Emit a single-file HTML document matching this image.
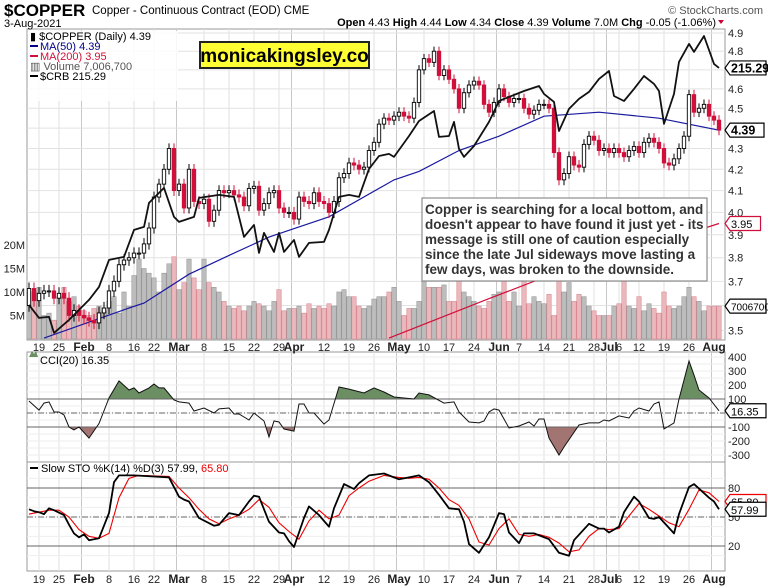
<!DOCTYPE html>
<html><head><meta charset="utf-8"><style>
body{margin:0;background:#fff;}
svg{display:block;font-family:"Liberation Sans",Arial,sans-serif;}
</style></head><body>
<svg id="c" width="768" height="588" viewBox="0 0 768 588" xmlns="http://www.w3.org/2000/svg">
<rect width="768" height="588" fill="#fff"/>
<g id="grid"></g>
<g id="vol"></g>
<g id="ma"></g>
<g id="candles"></g>
<g id="lines"></g>
<g id="ind"></g>
<g id="axes"></g>
<text x="4" y="16" font-size="17" font-weight="bold">$COPPER</text>
<text x="92" y="14" font-size="11.5">Copper - Continuous Contract (EOD)  CME</text>
<text x="4" y="27" font-size="11">3-Aug-2021</text>
<text x="763" y="14" font-size="11" fill="#555" text-anchor="end">© StockCharts.com</text>
<text x="716" y="26" font-size="11" text-anchor="end"><tspan font-weight="bold">Open</tspan> 4.43 <tspan font-weight="bold">High</tspan> 4.44 <tspan font-weight="bold">Low</tspan> 4.34 <tspan font-weight="bold">Close</tspan> 4.39 <tspan font-weight="bold">Volume</tspan> 7.0M <tspan font-weight="bold">Chg</tspan> -0.05 (-1.06%)</text>
<path d="M718 20 l6 0 l-3 4z" fill="#c03"/>
<g font-size="11">
<rect x="28" y="31" width="150" height="70" fill="#fff" opacity="0.85"/>
<text x="30" y="40">▮ $COPPER (Daily) 4.39</text>
<line x1="30" y1="46" x2="38" y2="46" stroke="#00008b" stroke-width="2"/>
<text x="40" y="50" fill="#00008b">MA(50) 4.39</text>
<line x1="30" y1="56" x2="38" y2="56" stroke="#d0103a" stroke-width="2"/>
<text x="40" y="60" fill="#d0103a">MA(200) 3.95</text>
<text x="30" y="70" fill="#555">▥ Volume 7,006,700</text>
<line x1="30" y1="76" x2="38" y2="76" stroke="#000" stroke-width="2"/>
<text x="40" y="80">$CRB 215.29</text>
</g>
<g>
<rect x="200" y="42" width="169" height="26" fill="#ffff33" stroke="#222" stroke-width="2"/>
<text x="284.5" y="62" font-size="19" font-weight="bold" text-anchor="middle">monicakingsley.co</text>
</g>
<g>
<rect x="422" y="198" width="285" height="83" fill="#fff" stroke="#777" stroke-width="1"/>
<text font-size="13.5" font-weight="bold" fill="#333">
<tspan x="425" y="214">Copper is searching for a local bottom, and</tspan>
<tspan x="425" y="229">doesn't appear to have found it just yet - its</tspan>
<tspan x="425" y="244">message is still one of caution especially</tspan>
<tspan x="425" y="259">since the late Jul sideways move lasting a</tspan>
<tspan x="425" y="274">few days, was broken to the downside.</tspan>
</text>
</g>
<g font-size="11">
<path d="M29 357 l3 -6 l2 3 l2 -3 l2 6z" fill="#6b8e63"/>
<text x="40" y="364">CCI(20) 16.35</text>
<line x1="30" y1="468" x2="38" y2="468" stroke="#000" stroke-width="2"/>
<text x="41" y="472">Slow STO %K(14) %D(3) 57.99, <tspan fill="#e00">65.80</tspan></text>
</g>
</svg>
<script>
// ---- data ----
const closes = [3.67,3.62,3.65,3.66,3.66,3.63,3.65,3.63,3.56,3.58,3.56,
3.55,3.54,3.53,3.57,3.59,3.66,3.70,3.77,3.79,3.80,3.82,3.82,3.86,3.93,4.07,4.13,4.20,4.30,4.10,
4.13,4.02,4.20,4.05,4.04,4.06,3.96,4.01,4.10,4.09,4.10,4.08,4.07,4.03,4.11,4.12,4.01,4.04,4.09,4.10,4.02,4.00,4.00,
3.97,4.07,4.05,4.04,4.09,4.05,4.04,4.00,4.05,4.16,4.18,4.23,4.22,4.20,4.21,4.29,4.33,4.42,4.45,4.44,4.46,
4.48,4.46,4.45,4.53,4.70,4.76,4.74,4.80,4.67,4.70,4.65,4.60,4.50,4.58,4.62,4.64,4.62,4.52,4.48,4.53,
4.60,4.56,4.53,4.55,4.55,4.50,4.47,4.49,4.52,4.52,4.50,4.28,4.15,4.18,4.26,4.22,4.21,4.32,4.36,4.34,4.29,4.30,
4.28,4.30,4.28,4.26,4.29,4.31,4.28,4.33,4.35,4.33,4.30,4.23,4.22,4.25,4.30,4.36,4.57,4.48,4.50,4.52,4.46,
4.44,4.39];
const firstOpen = 3.60;
const volumes = [7,10,11,5,5.5,4,9,11,8,9,7,
6,5,6.5,7,6,8,9,5.5,10,7,13.5,17,15,14,13,10,14,16,17.5,
10.5,12,17,13,10.5,17,12,11,10,8,7,6.5,7,6,7,8,7.5,7,6,8,10.5,6,6.5,
6.5,7,5.5,7.5,6.5,7,6.5,7.5,7,10,10.5,9,9,7,6.5,7,8.5,9,9,10,11,
8,5,6.5,6.5,8,14,11,11,11,11.5,8,8,17,10,9,8,7,6.5,8,9.5,
10,17,8,10,7,16,7.5,9,8,7.5,9.5,5,19,10,12,8,9.5,9,7,6,5,5,
5,7,7.5,17,7,6.5,9,6,7.5,6.5,5.5,10,7,6.5,7,9,11,9,8,6,7,
7,7];
const ma50Day = [3,20,23,32,40,48,60,73,78,86,94,103,114,126,138];
const ma50Val = [3.47,3.59,3.61,3.73,3.81,3.89,3.98,4.15,4.19,4.29,4.36,4.46,4.48,4.45,4.39];
const ma200Day = [72,91,101,118,138];
const ma200Val = [3.47,3.62,3.70,3.81,3.95];
const crbDay = [0,2,4,5,8,12,14,16,19,21,23,24,27,29,30,33,34,38,41,43,45,46,47,49,50,51,53,54,56,59,60,62,64,66,68,70,72,73,76,78,81,82,84,85,86,87,89,92,94,96,99,102,103,105,106,108,110,112,114,116,117,119,121,123,125,126,127,129,130,132,133,135,137,138];
const crbVal = [167.9,165.3,165.5,162.3,164.9,168.9,171.5,176.9,177.5,182.9,183.5,188.3,191.3,185.5,184.5,185.5,189.3,189.9,189.5,181.5,183.9,178.3,182.3,178.5,182.3,178.5,180.9,177.5,180.3,180.5,182.9,189.5,189.9,189.5,195.1,197.7,198.1,197.5,201.7,204.7,206.7,201.5,201.7,204.5,199.1,197.5,199.7,204.5,208.7,209.5,210.7,211.7,210.1,208.5,202.7,207.1,209.1,210.5,213.1,214.7,209.7,208.7,211.1,213.7,212.1,210.7,204.1,210.1,216.5,220.1,218.5,221.7,216.1,215.3];
const cciDay = [0,2,3,4,5,6,7,8,9,10,12,14,16,18,20,21,22,24,25,26,27,29,30,32,33,35,37,38,40,41,42,44,45,47,48,49,50,51,53,54,55,56,57,59,60,62,64,67,69,71,73,77,78,80,83,85,86,88,90,91,92,93,94,96,98,100,101,102,103,104,106,107,110,112,114,115,116,118,120,121,122,124,125,126,127,129,130,132,133,134,136,138];
const cciVal = [86,21,71,79,7,7,-14,-100,-121,-100,-179,-75,107,229,164,179,143,179,207,179,179,93,79,71,14,36,0,29,36,-7,-7,-50,0,-57,-171,-57,-64,-114,-129,64,64,0,0,-79,-50,186,171,143,179,150,114,100,143,129,71,79,7,-64,-71,-57,7,29,21,-107,-93,-64,-93,-43,-43,-179,-300,-243,-86,-71,-71,-50,-57,-21,-36,14,36,14,64,79,-114,-71,100,371,271,164,107,16];
const kDay = [0,1,2,3,4,5,7,8,9,10,11,12,14,16,17,18,21,28,30,31,32,34,37,38,40,42,44,45,46,48,50,51,52,53,55,56,58,60,61,63,65,66,68,71,74,76,78,80,82,84,86,87,88,90,92,94,95,96,98,99,101,104,106,108,109,112,114,115,116,118,119,121,122,124,125,126,129,130,132,133,136,137,138];
const kVal = [58,56,55,53,59,57,52,42,33,29,32,26,28,54,86,93,93,91,71,68,66,49,41,42,54,52,66,72,71,45,34,33,25,19,49,61,52,40,59,84,79,85,93,95,89,91,93,86,73,59,58,45,22,13,29,54,53,34,23,33,33,27,13,10,26,43,38,38,34,40,55,71,66,49,48,50,33,53,81,84,70,66,58];
const dDay = [0,2,4,6,8,10,12,14,16,18,20,22,28,30,32,34,36,38,40,42,44,46,48,50,52,54,56,58,60,62,64,66,68,71,74,76,78,80,82,84,86,88,90,92,94,96,98,100,102,104,106,108,110,112,114,116,118,120,122,124,126,128,130,132,134,136,138];
const dVal = [53,55,57,57,50,37,30,28,33,70,90,93,92,80,70,58,48,43,48,52,58,68,60,44,35,27,46,57,48,52,72,80,87,93,91,90,91,89,80,68,62,48,24,21,38,48,32,30,32,29,23,14,16,30,38,37,38,51,64,58,51,44,40,58,78,75,66];
const priceTicks = [4.9,4.8,4.7,4.6,4.5,4.4,4.3,4.2,4.1,4.0,3.9,3.8,3.7,3.6,3.5];
const priceTickLabels = ["4.9","4.8","","4.6","4.5","","4.3","4.2","4.1","4.0","3.9","3.8","3.7","","3.5"];
const volTicks = [20,15,10,5];
const cciTicks = [400,300,200,100,-100,-200,-300];
const stoTicks = [80,50,20];
const dateDay = [2,6,11,16,21,25,30,35,40,45,50,53,59,64,69,74,79,84,89,94,98,103,108,113,116,118,122,127,132,137];
const dateLbl = ["19","25","Feb","8","16","22","Mar","8","15","22","29","Apr","12","19","26","May","10","17","24","Jun","7","14","21","28","Jul","6","12","19","26","Aug"];
const dateMonth = [0,0,1,0,0,0,1,0,0,0,0,1,0,0,0,1,0,0,0,1,0,0,0,0,1,0,0,0,0,1];

// ---- scales ----
const L=27,R=725;
const X = i => 29 + i*5;
const Y = p => 33 + (Math.log(4.9)-Math.log(p))*884;
const VY = v => 339 - v*4.7;
const CRBY = v => 68 + (215.29 - v)*5;
const CY = v => 413 - v*0.14;
const SY = v => 517 - (v-50)*0.967;
const NS="http://www.w3.org/2000/svg";
function mk(tag, attrs, parent){const e=document.createElementNS(NS,tag);for(const k in attrs)e.setAttribute(k,attrs[k]);parent.appendChild(e);return e;}
const G=id=>document.getElementById(id);
const grid=G('grid'), axes=G('axes');

[[29,340],[352,462],[462,571]].forEach(([t,b],pi)=>{
  const r=mk('rect',{x:L,y:t,width:R-L,height:b-t,fill:'#fff',stroke:'#999','stroke-width':1},grid);
  
  
});
dateDay.forEach((d,i)=>{
  const x = dateMonth[i] ? X(d)-2.5 : X(d);
  [[29,340],[352,462],[462,571]].forEach(([t,b])=>{
    mk('line',{x1:x,y1:t,x2:x,y2:b,stroke:dateMonth[i]?'#c8c8c8':'#e2e2e2','stroke-width':1},grid);
  });
  [351,583].forEach(yy=>{
    const t=mk('text',{x:X(d),y:yy,'font-size':dateMonth[i]?12:11,'font-weight':dateMonth[i]?'bold':'normal','text-anchor':'middle',fill:'#222'},axes);
    t.textContent=dateLbl[i];
    
    
  });
});
priceTicks.forEach((p,i)=>{
  mk('line',{x1:L,y1:Y(p),x2:R,y2:Y(p),stroke:'#e2e2e2'},grid);
  if(priceTickLabels[i]){
    const t=mk('text',{x:728,y:Y(p)+4,'font-size':11,fill:'#222'},axes);
    t.textContent=priceTickLabels[i];
    
    
  }
});
volTicks.forEach(v=>{
  const t=mk('text',{x:25,y:VY(v)+4,'font-size':11,'text-anchor':'end',fill:'#222'},axes);
  t.textContent=v+'M';
  
  
});
for(let v=-300;v<=400;v+=50) mk('line',{x1:L,y1:CY(v),x2:R,y2:CY(v),stroke:'#eee'},grid);
cciTicks.forEach(v=>{
  const t=mk('text',{x:728,y:CY(v)+4,'font-size':11,fill:'#222'},axes);
  t.textContent=v;
  
  
});
for(let v=10;v<100;v+=10) mk('line',{x1:L,y1:SY(v),x2:R,y2:SY(v),stroke:'#eee'},grid);
stoTicks.forEach(v=>{
  const t=mk('text',{x:728,y:SY(v)+4,'font-size':11,fill:'#222'},axes);
  t.textContent=v;
  
  
});

const vol=G('vol');
volumes.forEach((v,i)=>{
  const prev = i? closes[i-1] : firstOpen;
  const down = closes[i] < prev;
  const b=mk('rect',{x:X(i)-2.2,y:VY(v),width:4.4,height:339-VY(v),fill:down?'#e9b9bd':'#bdbdbd',stroke:down?'#d98a92':'#999','stroke-width':0.6},vol);
  
  
});

function pathFrom(days, vals, fx, fy){return days.map((d,i)=>(i?'L':'M')+fx(d).toFixed(1)+' '+fy(vals[i]).toFixed(1)).join(' ');}
const ma=G('ma');
const m50=mk('path',{d:pathFrom(ma50Day,ma50Val,X,Y),fill:'none',stroke:'#1a1aa0','stroke-width':1.2},ma);


const m200=mk('path',{d:pathFrom(ma200Day,ma200Val,X,Y),fill:'none',stroke:'#d0103a','stroke-width':1.2},ma);



const cg=G('candles');
closes.forEach((c,i)=>{
  const o = i? closes[i-1] : firstOpen;
  const down = c < o;
  const col = down ? '#d0103a' : '#000';
  const hi = Math.max(o,c)+0.025, lo = Math.min(o,c)-0.025;
  const g=mk('g',{},cg);
  
  
  mk('line',{x1:X(i),y1:Y(hi),x2:X(i),y2:Y(lo),stroke:col,'stroke-width':1},g);
  const top=Y(Math.max(o,c)), bot=Y(Math.min(o,c));
  mk('rect',{x:X(i)-1.7,y:top,width:3.4,height:Math.max(1,bot-top),fill:down?col:'#fff',stroke:col,'stroke-width':0.9},g);
});

const crb=mk('path',{d:pathFrom(crbDay,crbVal,X,CRBY),fill:'none',stroke:'#111','stroke-width':1.8,'stroke-linejoin':'round'},G('lines'));



const ind=G('ind');
const defs=mk('defs',{},ind);
const c1=mk('clipPath',{id:'cAbove'},defs); mk('rect',{x:L,y:352,width:R-L,height:CY(100)-352},c1);
const c2=mk('clipPath',{id:'cBelow'},defs); mk('rect',{x:L,y:CY(-100),width:R-L,height:462-CY(-100)},c2);
const cciPath=pathFrom(cciDay,cciVal,X,CY);
const lastX=X(cciDay[cciDay.length-1]), firstX=X(cciDay[0]);
mk('path',{d:cciPath+` L${lastX} ${CY(100)} L${firstX} ${CY(100)} Z`,fill:'#6b8e63','clip-path':'url(#cAbove)'},ind);
mk('path',{d:cciPath+` L${lastX} ${CY(-100)} L${firstX} ${CY(-100)} Z`,fill:'#a27472','clip-path':'url(#cBelow)'},ind);
mk('line',{x1:L,y1:CY(100),x2:R,y2:CY(100),stroke:'#666'},ind);
mk('line',{x1:L,y1:CY(-100),x2:R,y2:CY(-100),stroke:'#666'},ind);
mk('line',{x1:L,y1:CY(0),x2:R,y2:CY(0),stroke:'#666','stroke-dasharray':'6 2 1 2'},ind);
const cl=mk('path',{d:cciPath,fill:'none',stroke:'#111','stroke-width':1},ind);



[80,20].forEach(v=>mk('line',{x1:L,y1:SY(v),x2:R,y2:SY(v),stroke:'#666'},ind));
mk('line',{x1:L,y1:SY(50),x2:R,y2:SY(50),stroke:'#666','stroke-dasharray':'6 2 1 2'},ind);
const dl=mk('path',{d:pathFrom(dDay,dVal,X,SY),fill:'none',stroke:'#e00','stroke-width':1.1},ind);


const kl=mk('path',{d:pathFrom(kDay,kVal,X,SY),fill:'none',stroke:'#000','stroke-width':1.8,'stroke-linejoin':'round'},ind);



function tag(y,txt,col,bold,name,fs){
  const g=mk('g',{},axes);
  
  
  const w=Math.min(txt.length*(fs*0.58)+5, 768-R-7);
  mk('path',{d:`M${R} ${y} L${R+5} ${y-7} L${R+5+w} ${y-7} L${R+5+w} ${y+7} L${R+5} ${y+7} Z`,fill:'#fff',stroke:col,'stroke-width':1.2},g);
  const t=mk('text',{x:R+6,y:y+4.5,'font-size':fs,'font-weight':bold?'bold':'normal',fill:'#000'},g);
  t.textContent=txt;
}
tag(CRBY(crbVal[crbVal.length-1]),'215.29','#000',true,'crb-value-tag',12.5);
tag(Y(closes[closes.length-1]),'4.39','#000',true,'price-value-tag',12.5);
tag(Y(ma200Val[ma200Val.length-1]),'3.95','#d0103a',false,'ma200-value-tag',11);
tag(VY(volumes[volumes.length-1]),'7006700','#000',false,'volume-value-tag',10);
tag(CY(cciVal[cciVal.length-1]),'16.35','#000',false,'cci-value-tag',11);
tag(SY(dVal[dVal.length-1]),'65.80','#e00',false,'sto-d-value-tag',11);
tag(SY(kVal[kVal.length-1]),'57.99','#000',false,'sto-k-value-tag',11);
</script>
</body></html>
